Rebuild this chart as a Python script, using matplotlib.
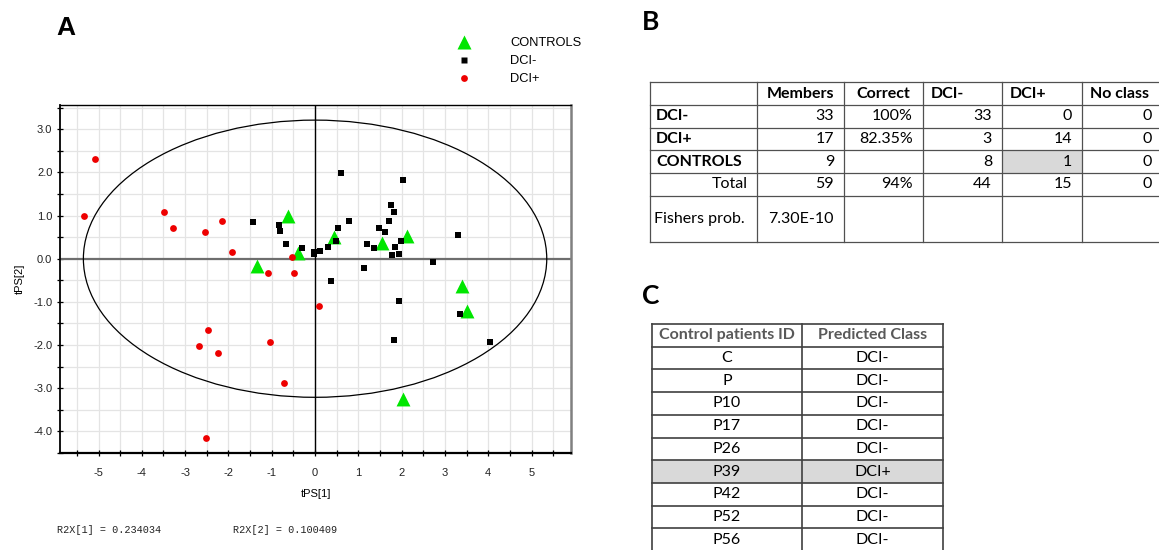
import numpy as np
import matplotlib
matplotlib.use("Agg")
import matplotlib.pyplot as plt
from matplotlib.patches import Ellipse, Rectangle
from matplotlib.lines import Line2D

# ---------------- data ----------------
controls_x = [-0.62, -1.33, -0.40, 0.43, 1.55, 2.12, 3.40, 3.50, 2.03]
controls_y = [0.98, -0.18, 0.13, 0.50, 0.36, 0.52, -0.64, -1.22, -3.24]

dci_neg_x = [-1.43, -0.83, -0.81, -0.67, -0.31, -0.02, -0.02, 0.12, 0.30, 0.37, 0.53, 0.49,
             0.60, 0.79, 1.14, 1.20, 1.35, 1.48, 1.62, 1.71, 1.76, 1.83, 1.85, 1.98,
             1.94, 1.78, 2.04, 2.72, 3.31, 1.94, 1.82, 3.35, 4.04]
dci_neg_y = [0.86, 0.78, 0.65, 0.35, 0.24, 0.16, 0.12, 0.19, 0.28, -0.52, 0.70, 0.40,
             1.99, 0.88, -0.22, 0.35, 0.24, 0.70, 0.61, 0.88, 1.25, 1.09, 0.27, 0.40,
             0.12, 0.08, 1.83, -0.07, 0.54, -0.99, -1.89, -1.28, -1.94]

dci_pos_x = [-5.08, -5.34, -3.48, -3.28, -2.55, -2.15, -1.92, -1.08, -0.54, -0.48,
             0.08, -2.47, -2.68, -2.23, -1.04, -0.72, -2.52]
dci_pos_y = [2.31, 1.00, 1.08, 0.72, 0.62, 0.88, 0.15, -0.34, 0.05, -0.32,
             -1.09, -1.65, -2.03, -2.18, -1.93, -2.89, -4.16]

ellipse_axes = (5.35, 3.21)   # semi-axes of Hotelling T2 ellipse
r2x_text = ["R2X[1] = 0.234034", "R2X[2] = 0.100409"]

# Table B
tb_header = ["", "Members", "Correct", "DCI-", "DCI+", "No class"]
tb_rows = ["DCI-", "DCI+", "CONTROLS", "Total", "Fishers prob."]
tb_members = ["33", "17", "9", "59", "7.30E-10"]
tb_correct = ["100%", "82.35%", "", "94%", ""]
tb_dcineg = ["33", "3", "8", "44", ""]
tb_dcipos = ["0", "14", "1", "15", ""]
tb_noclass = ["0", "0", "0", "0", ""]

# Table C
tc_header = ["Control patients ID", "Predicted Class"]
tc_ids = ["C", "P", "P10", "P17", "P26", "P39", "P42", "P52", "P56"]
tc_pred = ["DCI-", "DCI-", "DCI-", "DCI-", "DCI-", "DCI+", "DCI-", "DCI-", "DCI-"]

# ---------------- figure ----------------
W, H = 1159, 550
fig = plt.figure(figsize=(W / 100, H / 100), dpi=100)

sans = ["Liberation Sans", "DejaVu Sans"]
tfont = ["Lato", "DejaVu Sans"]
mono = ["Liberation Mono", "DejaVu Sans Mono"]

def fx(px):
    return px / W

def fy(py):
    return 1 - py / H

# scatter axes
ax = fig.add_axes([fx(60), fy(453), fx(571) - fx(60), fy(105) - fy(453)])
ax.set_xlim(-5.89, 5.91)
ax.set_ylim(-4.49, 3.56)

ax.set_xticks(np.arange(-5, 6, 1))
ax.set_xticks(np.arange(-5.5, 5.6, 0.5), minor=True)
ax.set_yticks(np.arange(-4, 4, 1))
ax.set_yticks(np.arange(-4.5, 3.6, 0.5), minor=True)
ax.set_xticklabels([f"{v:d}" for v in range(-5, 6)])
ax.set_yticklabels([f"{v:.1f}" for v in np.arange(-4, 4, 1.0)])
for lab in ax.get_xticklabels() + ax.get_yticklabels():
    lab.set_family(sans)
    lab.set_fontsize(8)
    lab.set_color("#222222")
ax.tick_params(which="both", direction="inout", length=5, width=0.9, color="black")
ax.tick_params(axis="x", pad=8)
ax.tick_params(axis="y", pad=3)
ax.grid(which="both", color="#e4e4e4", lw=0.9, zorder=0)
ax.set_axisbelow(True)

for s in ["left", "bottom", "top"]:
    ax.spines[s].set_color("black")
ax.spines["left"].set_linewidth(1.3)
ax.spines["bottom"].set_linewidth(1.6)
ax.spines["top"].set_linewidth(1.0)
ax.spines["right"].set_color("#808080")
ax.spines["right"].set_linewidth(1.8)

ax.axhline(0, color="#6e6e6e", lw=1.6, zorder=1)
ax.axvline(0, color="black", lw=1.0, zorder=1)
ax.add_patch(Ellipse((0, 0), 2 * ellipse_axes[0], 2 * ellipse_axes[1], fill=False,
                     ec="black", lw=0.9, zorder=2))

ax.scatter(controls_x, controls_y, marker="^", s=100, c="#00e600", linewidths=0,
           zorder=3, label="CONTROLS")
ax.scatter(dci_neg_x, dci_neg_y, marker="s", s=19, c="black", linewidths=0,
           zorder=4, label="DCI-")
ax.scatter(dci_pos_x, dci_pos_y, marker="o", s=24, c="#ee0000", linewidths=0,
           zorder=5, label="DCI+")

ax.set_xlabel("tPS[1]", family=sans, fontsize=8, labelpad=8)
ax.set_ylabel("tPS[2]", family=sans, fontsize=8)
ax.yaxis.set_label_coords(-0.068, 0.5)

# legend
leg_handles = [
    Line2D([], [], ls="none", marker="^", ms=10, mfc="#00e600", mec="none"),
    Line2D([], [], ls="none", marker="s", ms=4.4, mfc="black", mec="none"),
    Line2D([], [], ls="none", marker="o", ms=4.9, mfc="#ee0000", mec="none"),
]
fig.legend(leg_handles, ["CONTROLS", "DCI-", "DCI+"], loc="upper left",
           bbox_to_anchor=(fx(441), fy(27)), frameon=False,
           prop={"family": sans, "size": 9.3}, handlelength=2.0,
           handletextpad=2.57, labelspacing=0.45, borderpad=0.3)

# overlay axes in pixel coordinates for text and tables
ov = fig.add_axes([0, 0, 1, 1])
ov.set_xlim(0, W)
ov.set_ylim(H, 0)
ov.axis("off")

ov.text(66, 28, "A", fontsize=19, fontweight="bold", family=sans, ha="center", va="center")
ov.text(651, 22, "B", fontsize=19, fontweight="bold", family=tfont, ha="center", va="center")
ov.text(651, 296, "C", fontsize=19, fontweight="bold", family=tfont, ha="center", va="center")

ov.text(57, 530, r2x_text[0], family=mono, fontsize=7.3, ha="left", va="center", color="#222222")
ov.text(233, 530, r2x_text[1], family=mono, fontsize=7.3, ha="left", va="center", color="#222222")

# ---- Table B ----
lc = "#505050"
bx = [650, 757, 844, 923, 1002, 1082, 1162]
by = [82, 105, 128, 150, 173, 196, 242]
fs = 11.5
ov.add_patch(Rectangle((bx[4], by[3]), bx[5] - bx[4], by[4] - by[3], fc="#d9d9d9", ec="none"))
for x in bx:
    ov.plot([x, x], [by[0], by[-1]], color=lc, lw=0.9)
for y in by:
    ov.plot([bx[0], bx[-1]], [y, y], color=lc, lw=0.9)

hc = (by[0] + by[1]) / 2
ov.text((bx[1] + bx[2]) / 2, hc, tb_header[1], family=tfont, fontsize=fs, fontweight="bold", ha="center", va="center")
ov.text((bx[2] + bx[3]) / 2, hc, tb_header[2], family=tfont, fontsize=fs, fontweight="bold", ha="center", va="center")
for i in (3, 4, 5):
    ov.text(bx[i] + 8, hc, tb_header[i], family=tfont, fontsize=fs, fontweight="bold", ha="left", va="center")

cols = [tb_members, tb_correct, tb_dcineg, tb_dcipos, tb_noclass]
for r, name in enumerate(tb_rows):
    yc = (by[r + 1] + by[r + 2]) / 2
    if r < 3:
        ov.text(bx[0] + 6, yc, name, family=tfont, fontsize=fs, fontweight="bold", ha="left", va="center")
    elif r == 3:
        ov.text(bx[1] - 9, yc, name, family=tfont, fontsize=fs, ha="right", va="center")
    else:
        ov.text(bx[0] + 4, yc, name, family=tfont, fontsize=fs, ha="left", va="center")
    for c, col in enumerate(cols):
        v = col[r]
        if not v:
            continue
        if r == 4:
            ov.text((bx[c + 1] + bx[c + 2]) / 2, yc, v, family=tfont, fontsize=fs, ha="center", va="center")
        else:
            ov.text(bx[c + 2] - 10, yc, v, family=tfont, fontsize=fs, ha="right", va="center")

# ---- Table C ----
cx = [652, 802, 943]
rh = 22.7
cy0 = 324
ncy = len(tc_ids) + 1
cy = [cy0 + i * rh for i in range(ncy + 1)]
p_idx = tc_pred.index("DCI+")
ov.add_patch(Rectangle((cx[0], cy[p_idx + 1]), cx[2] - cx[0], rh, fc="#d9d9d9", ec="none"))
for x in cx:
    ov.plot([x, x], [cy[0], cy[-1]], color="#404040", lw=1.2)
for y in cy:
    ov.plot([cx[0], cx[-1]], [y, y], color="#404040", lw=1.2)
ov.text((cx[0] + cx[1]) / 2, cy[0] + rh / 2, tc_header[0], family=tfont, fontsize=fs,
        fontweight="bold", color="#595959", ha="center", va="center")
ov.text((cx[1] + cx[2]) / 2, cy[0] + rh / 2, tc_header[1], family=tfont, fontsize=fs,
        fontweight="bold", color="#595959", ha="center", va="center")
for i, (pid, pc) in enumerate(zip(tc_ids, tc_pred)):
    yc = cy[i + 1] + rh / 2
    ov.text((cx[0] + cx[1]) / 2, yc, pid, family=tfont, fontsize=fs, ha="center", va="center")
    ov.text((cx[1] + cx[2]) / 2, yc, pc, family=tfont, fontsize=fs, ha="center", va="center")

fig.savefig("out.png", dpi=100)
